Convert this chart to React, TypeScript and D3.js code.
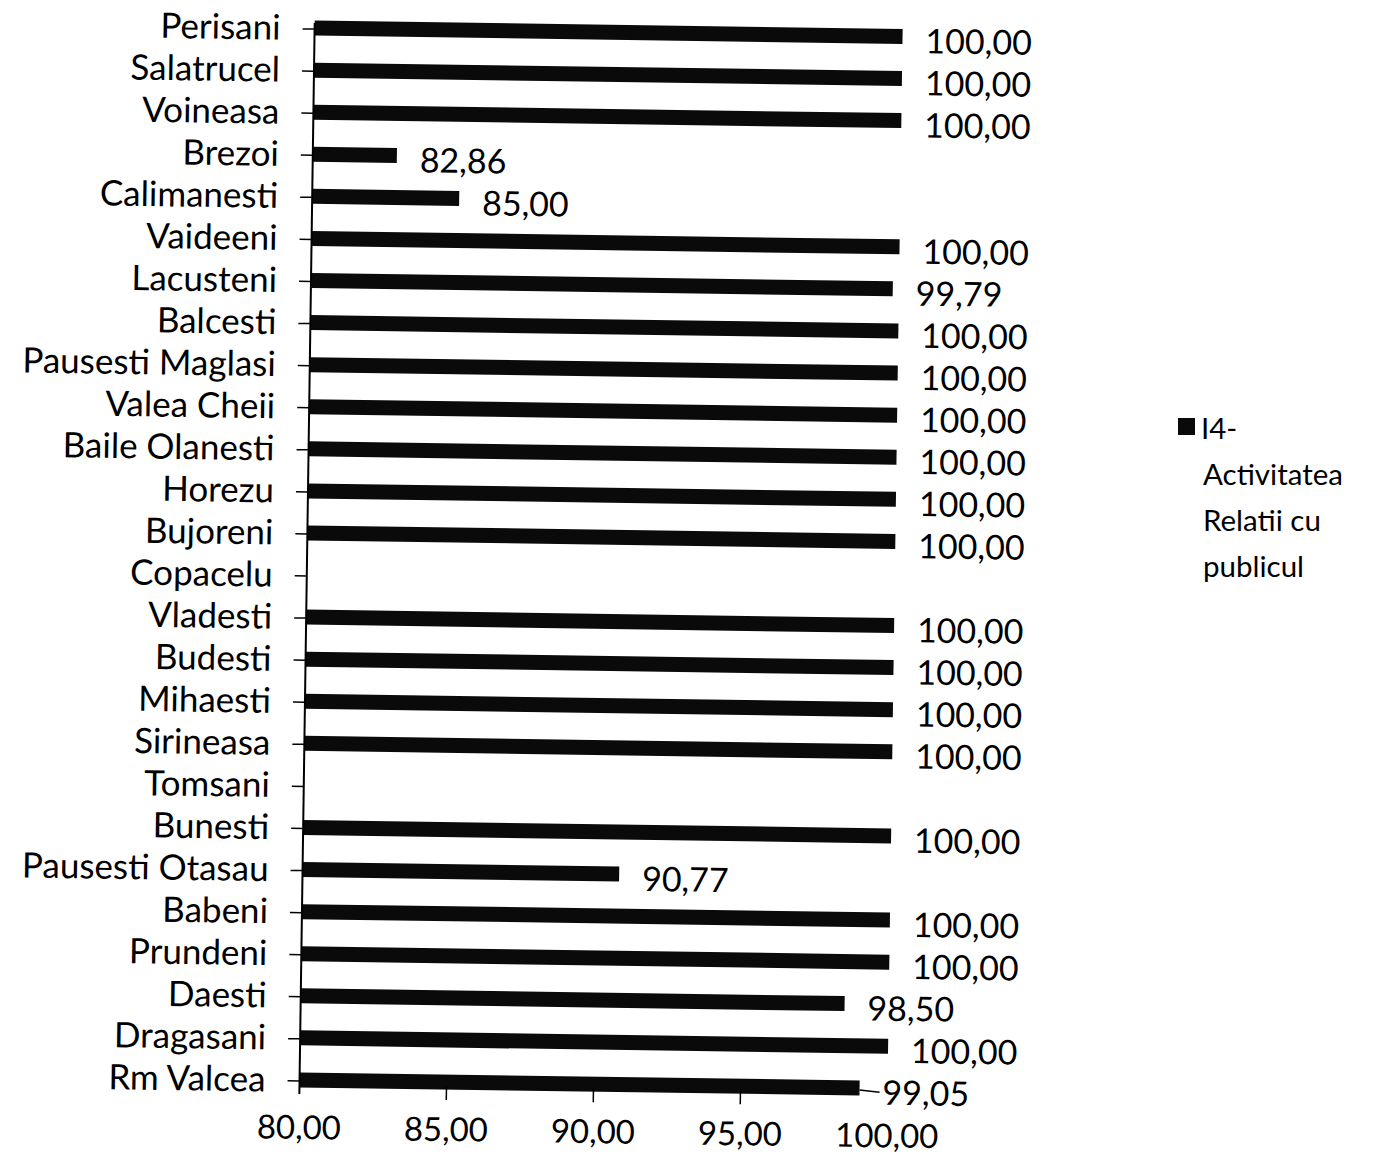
import React, { useEffect, useRef } from "react";
import * as d3 from "d3";

const categories = [
  "Perisani", "Salatrucel", "Voineasa", "Brezoi", "Calimanesti", "Vaideeni",
  "Lacusteni", "Balcesti", "Pausesti Maglasi", "Valea Cheii", "Baile Olanesti",
  "Horezu", "Bujoreni", "Copacelu", "Vladesti", "Budesti", "Mihaesti",
  "Sirineasa", "Tomsani", "Bunesti", "Pausesti Otasau", "Babeni", "Prundeni",
  "Daesti", "Dragasani", "Rm Valcea",
];
const values: (number | null)[] = [
  100, 100, 100, 82.86, 85.0, 100,
  99.79, 100, 100, 100, 100,
  100, 100, null, 100, 100, 100,
  100, null, 100, 90.77, 100, 100,
  98.5, 100, 99.05,
];
const xTicks = [80, 85, 90, 95, 100];
const seriesName = ["I4-", "Activitatea", "Relatii cu", "publicul"];

const W = 1374;
const H = 1157;
const FONT = "Lato, 'Open Sans', sans-serif";
const fmt = (v: number) => d3.format(".2f")(v).replace(".", ",");

export default function App() {
  const ref = useRef<SVGSVGElement>(null);
  useEffect(() => {
    const svg = d3.select(ref.current);
    svg.selectAll("*").remove();
    svg.append("rect").attr("width", W).attr("height", H).attr("fill", "#fff");

    const axisX = 307;
    const x = d3.scaleLinear().domain([80, 100]).range([axisX, axisX + 588]);
    const step = 42.08;
    const y = d3
      .scalePoint<string>()
      .domain(categories)
      .range([28, 28 + step * (categories.length - 1)]);
    const barH = 15;

    const g = svg
      .append("g")
      .attr("transform", `rotate(0.82, ${axisX}, 560)`);

    // bars
    categories.forEach((c, i) => {
      const v = values[i];
      if (v == null) return;
      const cy = y(c)!;
      g.append("rect")
        .attr("x", x(80))
        .attr("y", cy - barH / 2)
        .attr("width", x(v) - x(80))
        .attr("height", barH)
        .attr("fill", "#0a0a0a");
      if (c === "Rm Valcea") {
        g.append("line")
          .attr("x1", x(v))
          .attr("x2", x(v) + 20)
          .attr("y1", cy + 2)
          .attr("y2", cy + 4)
          .attr("stroke", "#000")
          .attr("stroke-width", 1.5);
      }
      g.append("text")
        .attr("x", x(v) + 23)
        .attr("y", cy + 3)
        .attr("dominant-baseline", "central")
        .attr("font-family", FONT)
        .attr("font-size", 34)
        .attr("fill", "#000")
        .text(fmt(v));
    });

    // y axis
    g.append("line")
      .attr("x1", axisX)
      .attr("x2", axisX)
      .attr("y1", y(categories[0])! - 5)
      .attr("y2", y(categories[categories.length - 1])! + 14)
      .attr("stroke", "#000")
      .attr("stroke-width", 2);
    categories.forEach((c) => {
      const cy = y(c)!;
      g.append("line")
        .attr("x1", axisX - 12)
        .attr("x2", axisX)
        .attr("y1", cy + 1)
        .attr("y2", cy + 1)
        .attr("stroke", "#000")
        .attr("stroke-width", 1.5);
      g.append("text")
        .attr("x", axisX - 34)
        .attr("y", cy - 2)
        .attr("text-anchor", "end")
        .attr("dominant-baseline", "central")
        .attr("font-family", FONT)
        .attr("font-size", 35)
        .attr("fill", "#000")
        .text(c);
    });

    // x ticks
    const bottom = y(categories[categories.length - 1])!;
    xTicks.forEach((t) => {
      if (t !== 80 && t !== 100) {
        g.append("line")
          .attr("x1", x(t))
          .attr("x2", x(t))
          .attr("y1", bottom + 4)
          .attr("y2", bottom + 18)
          .attr("stroke", "#000")
          .attr("stroke-width", 1.5);
      }
      g.append("text")
        .attr("x", x(t))
        .attr("y", bottom + 46)
        .attr("text-anchor", "middle")
        .attr("dominant-baseline", "central")
        .attr("font-family", FONT)
        .attr("font-size", 33)
        .attr("fill", "#000")
        .text(fmt(t));
    });

    // legend
    svg.append("rect")
      .attr("x", 1178)
      .attr("y", 418)
      .attr("width", 17)
      .attr("height", 17)
      .attr("fill", "#0a0a0a");
    seriesName.forEach((s, i) => {
      svg.append("text")
        .attr("x", i === 0 ? 1201 : 1203)
        .attr("y", 427 + i * 46)
        .attr("dominant-baseline", "central")
        .attr("font-family", FONT)
        .attr("font-size", 29.5)
        .attr("fill", "#000")
        .text(s);
    });
  }, []);

  return (
    <div style={{ position: "absolute", left: 0, top: 0 }}>
      <svg ref={ref} width={W} height={H} style={{ display: "block" }} />
    </div>
  );
}
